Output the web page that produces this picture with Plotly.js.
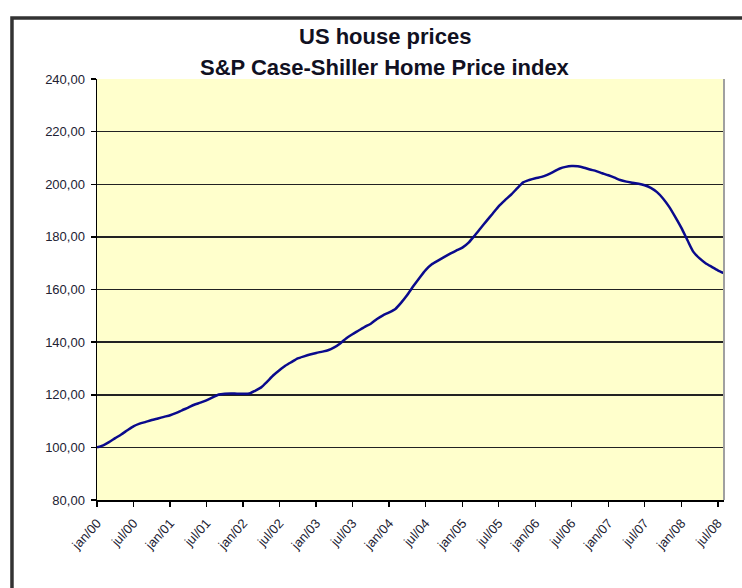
<!DOCTYPE html>
<html>
<head>
<meta charset="utf-8">
<script src="https://cdn.plot.ly/plotly-3.0.1.min.js"></script>
<style>
  html, body { margin: 0; padding: 0; background: #ffffff; }
  #chart { width: 742px; height: 588px; }
</style>
</head>
<body>
<div id="chart"></div>
<script>
// S&P Case-Shiller Home Price index, monthly, jan/2000 .. aug/2008
const startYear = 2000;
const indexValues = [
  100.0, 100.8, 102.0, 103.5, 104.9, 106.5, 108.0, 109.0, 109.7, 110.4, 111.0, 111.6,
  112.2, 113.1, 114.1, 115.1, 116.2, 117.0, 117.9, 119.0, 120.1, 120.4, 120.5, 120.4,
  120.4, 120.5, 121.5, 122.8, 125.0, 127.4, 129.3, 131.1, 132.5, 133.8, 134.6, 135.3,
  135.9, 136.4, 136.9, 138.0, 139.5, 141.5, 143.0, 144.4, 145.8, 147.0, 148.8, 150.2,
  151.3, 152.6, 155.0, 158.0, 161.3, 164.5, 167.4, 169.6, 171.0, 172.3, 173.6, 174.8,
  175.9, 177.8, 180.3, 183.2, 186.0, 188.8, 191.6, 193.9, 196.0, 198.4, 200.7, 201.6,
  202.3, 202.8, 203.6, 204.7, 205.9, 206.6, 206.9, 206.8, 206.3, 205.6, 205.0, 204.2,
  203.4, 202.5, 201.6, 201.0, 200.6, 200.2, 199.6, 198.6, 197.0, 194.6, 191.4, 187.6,
  183.4, 178.6, 174.3, 171.8, 170.0, 168.6, 167.3, 166.2
];
const xTickVals = ['2000-01-01','2000-07-01','2001-01-01','2001-07-01','2002-01-01','2002-07-01',
  '2003-01-01','2003-07-01','2004-01-01','2004-07-01','2005-01-01','2005-07-01',
  '2006-01-01','2006-07-01','2007-01-01','2007-07-01','2008-01-01','2008-07-01'];
const xTickText = ['jan/00','jul/00','jan/01','jul/01','jan/02','jul/02','jan/03','jul/03',
  'jan/04','jul/04','jan/05','jul/05','jan/06','jul/06','jan/07','jul/07','jan/08','jul/08'];
const yTickVals = [80, 100, 120, 140, 160, 180, 200, 220, 240];
const yTickText = ['80,00','100,00','120,00','140,00','160,00','180,00','200,00','220,00','240,00'];
const titleLine1 = 'US house prices';
const titleLine2 = 'S&amp;P Case-Shiller Home Price index';

const months = indexValues.map((v, i) => {
  const y = startYear + Math.floor(i / 12);
  const m = (i % 12) + 1;
  return y + '-' + (m < 10 ? '0' + m : m) + '-01';
});

const trace = {
  x: months, y: indexValues, type: 'scatter', mode: 'lines',
  line: { color: '#0a0a8c', width: 2.5, shape: 'spline', smoothing: 0.6 },
  hoverinfo: 'x+y'
};

const font = 'Liberation Sans, Arial, sans-serif';
const layout = {
  width: 742, height: 588,
  margin: { l: 97, r: 18, t: 79, b: 88 },
  paper_bgcolor: '#ffffff',
  plot_bgcolor: '#FFFFCC',
  showlegend: false,
  font: { family: font, color: '#222233' },
  xaxis: {
    type: 'date', range: ['2000-01-01', '2008-08-01'],
    tickvals: xTickVals, ticktext: xTickText, tickangle: -48,
    tickfont: { size: 13, color: '#222233', family: font },
    showgrid: false, showline: true, linecolor: '#000000', linewidth: 1.5,
    ticks: 'outside', ticklen: 5, tickcolor: '#000000', tickwidth: 1.5,
    ticklabelstandoff: 4,
    zeroline: false, fixedrange: true
  },
  yaxis: {
    range: [80, 240], tickvals: yTickVals, ticktext: yTickText,
    tickfont: { size: 13, color: '#222233', family: font },
    showgrid: true, gridcolor: '#222222', gridwidth: 1.5,
    showline: true, linecolor: '#000000', linewidth: 1.5,
    ticks: 'outside', ticklen: 5, tickcolor: '#000000', tickwidth: 1.5,
    ticklabelstandoff: 3,
    zeroline: false, fixedrange: true
  },
  shapes: [
    { type: 'line', xref: 'paper', yref: 'paper', x0: 1, x1: 1, y0: 0, y1: 1,
      line: { color: '#a0a0a0', width: 2 } },
    { type: 'rect', xref: 'paper', yref: 'paper', x0: -0.1356, x1: 1.3, y0: -0.3, y1: 1.145,
      line: { color: '#333333', width: 3.5 } }
  ],
  annotations: [
    { text: '<b>' + titleLine1 + '</b>', xref: 'paper', yref: 'paper', x: 0.4593, y: 1.0998,
      xanchor: 'center', yanchor: 'middle', showarrow: false,
      font: { size: 22, color: '#111122', family: font } },
    { text: '<b>' + titleLine2 + '</b>', xref: 'paper', yref: 'paper', x: 0.4593, y: 1.0285,
      xanchor: 'center', yanchor: 'middle', showarrow: false,
      font: { size: 22, color: '#111122', family: font } }
  ]
};

Plotly.newPlot('chart', [trace], layout, { displayModeBar: false, staticPlot: true });
</script>
</body>
</html>
